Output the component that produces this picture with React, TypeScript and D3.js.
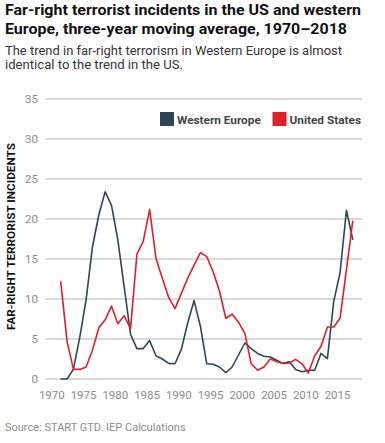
import { scaleLinear, line } from "d3";

const years = [
  1971, 1972, 1973, 1974, 1975, 1976, 1977, 1978, 1979, 1980,
  1981, 1982, 1983, 1984, 1985, 1986, 1987, 1988, 1989, 1990,
  1991, 1992, 1993, 1994, 1995, 1996, 1997, 1998, 1999, 2000,
  2001, 2002, 2003, 2004, 2005, 2006, 2007, 2008, 2009, 2010,
  2011, 2012, 2013, 2014, 2015, 2016, 2017,
];

const westernEurope = [
  0, 0, 1.2, 5.2, 9.9, 16.5, 20.5, 23.4, 21.7, 17.4,
  11.5, 5.6, 3.8, 3.8, 4.8, 2.9, 2.5, 1.95, 1.9, 3.7,
  7.0, 9.8, 6.6, 1.9, 1.85, 1.5, 0.8, 1.5, 3.0, 4.5,
  3.8, 3.2, 2.85, 2.75, 2.35, 1.95, 2.15, 1.2, 0.9, 1.1,
  1.1, 3.2, 2.55, 9.7, 13.3, 21.1, 17.4,
];

const unitedStates = [
  12.2, 4.7, 1.2, 1.2, 1.5, 3.6, 6.4, 7.4, 9.1, 6.9,
  7.9, 6.3, 15.6, 17.2, 21.2, 15.1, 12.6, 10.2, 8.8, 10.7,
  12.6, 14.2, 15.8, 15.3, 13.4, 11.0, 7.6, 8.1, 7.1, 5.7,
  1.9, 1.1, 1.5, 2.5, 2.2, 1.95, 2.0, 2.45, 1.9, 0.75,
  2.9, 4.1, 6.5, 6.5, 7.6, 13.7, 19.8,
];

const yTicks = [0, 5, 10, 15, 20, 25, 30, 35];
const xTicks = [1970, 1975, 1980, 1985, 1990, 1995, 2000, 2005, 2010, 2015];

const series = [
  { name: "Western Europe", values: westernEurope, color: "#2c4655" },
  { name: "United States", values: unitedStates, color: "#e11f2b" },
];

const W = 385;
const H = 443;
const font = "Roboto, 'Open Sans', sans-serif";

export default function App() {
  const x = scaleLinear().domain([1971, 2017]).range([60.7, 352.8]);
  const y = scaleLinear().domain([0, 35]).range([379, 99]);

  const path = (vals: number[]) =>
    line<number>()
      .x((_, i) => x(years[i]))
      .y((d) => y(d))(vals) || "";

  const legendX = [160, 272.5];

  return (
    <svg
      width={W}
      height={H}
      style={{ position: "absolute", left: 0, top: 0, background: "#fff" }}
      fontFamily={font}
    >
      {/* title */}
      <text x={5} y={15} fontSize={15} fontWeight={700} fill="#111"
        textLength={356} lengthAdjust="spacingAndGlyphs">
        Far-right terrorist incidents in the US and western
      </text>
      <text x={5} y={34} fontSize={15} fontWeight={700} fill="#111"
        textLength={342} lengthAdjust="spacingAndGlyphs">
        Europe, three-year moving average, 1970–2018
      </text>
      <text x={5} y={55} fontSize={12.3} fill="#333"
        textLength={337} lengthAdjust="spacingAndGlyphs">
        The trend in far-right terrorism in Western Europe is almost
      </text>
      <text x={5} y={68.5} fontSize={12.3} fill="#333"
        textLength={178} lengthAdjust="spacingAndGlyphs">
        identical to the trend in the US.
      </text>

      {/* gridlines */}
      {yTicks.map((t) => (
        <g key={t}>
          <line x1={45} x2={362} y1={y(t)} y2={y(t)} stroke="#b5b5b5" strokeWidth={1} />
          <text
            x={38}
            y={y(t)}
            dy="0.35em"
            textAnchor="end"
            fontSize={11.5}
            fill="#8c8c8c"
          >
            {t}
          </text>
        </g>
      ))}

      {xTicks.map((t) => (
        <text
          key={t}
          x={x(t) - 2.5}
          y={399}
          textAnchor="middle"
          fontSize={11.5}
          fill="#8c8c8c"
        >
          {t}
        </text>
      ))}

      {/* y axis title */}
      <text
        transform="translate(15,236.5) rotate(-90)"
        textAnchor="middle"
        fontSize={11}
        fontWeight={700}
        fill="#111"
        textLength={187}
        lengthAdjust="spacingAndGlyphs"
      >
        FAR-RIGHT TERRORIST INCIDENTS
      </text>

      {/* lines */}
      {series.map((s) => (
        <path
          key={s.name}
          d={path(s.values)}
          fill="none"
          stroke={s.color}
          strokeWidth={1.6}
          strokeLinejoin="round"
        />
      ))}

      {/* legend */}
      {series.map((s, i) => (
        <g key={s.name} transform={`translate(${legendX[i]},112)`}>
          <rect width={14} height={14} fill={s.color} />
          <text x={17} y={11.5} fontSize={11.8} fontWeight={700} fill="#444">
            {s.name}
          </text>
        </g>
      ))}

      <text x={5} y={431} fontSize={11} fill="#8c8c8c">
        Source: START GTD. IEP Calculations
      </text>
    </svg>
  );
}
